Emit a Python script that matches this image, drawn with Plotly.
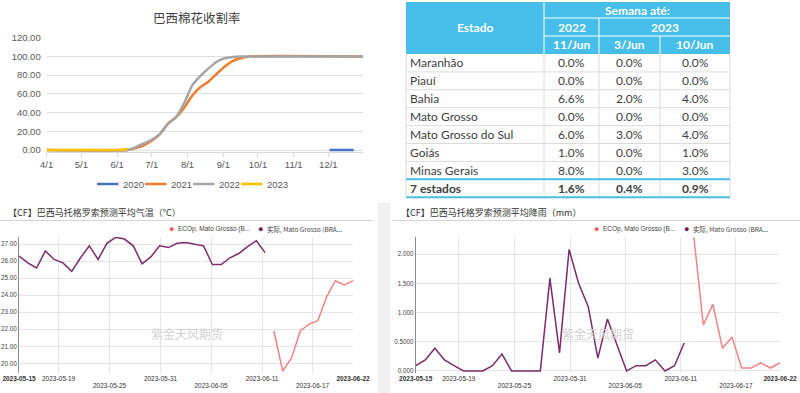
import plotly.graph_objects as go

W, H = 800, 393
def px(x): return x / W
def py(y): return 1 - y / H

# ---------------- top-left chart data (dummy year 2000 for the season) ----------------
dates_2020 = ["2000-12-02", "2000-12-23"]
vals_2020 = [0, 0]
dates_2021 = ["2000-04-01", "2000-06-10", "2000-06-17", "2000-06-24", "2000-07-01", "2000-07-08",
              "2000-07-15", "2000-07-22", "2000-07-29", "2000-08-05", "2000-08-12", "2000-08-19",
              "2000-08-26", "2000-09-02", "2000-09-09", "2000-09-16", "2000-09-23", "2000-12-31"]
vals_2021 = [0, 0, 2, 5, 10, 17, 28, 35, 45, 58, 67, 73, 81, 89, 95, 98, 100, 100]
dates_2022 = ["2000-04-01", "2000-06-10", "2000-06-17", "2000-06-24", "2000-07-01", "2000-07-08",
              "2000-07-15", "2000-07-22", "2000-07-29", "2000-08-05", "2000-08-12", "2000-08-19",
              "2000-08-26", "2000-09-02", "2000-09-09", "2000-09-16", "2000-12-31"]
vals_2022 = [0, 0, 3, 7, 11, 17, 28, 35, 50, 69, 79, 87, 94, 98, 99.5, 100, 100]
dates_2023 = ["2000-04-01", "2000-05-27", "2000-06-03", "2000-06-10"]
vals_2023 = [0, 0, 0.4, 0.9]
series_names = ["2020", "2021", "2022", "2023"]
series_colors = ["#4472C4", "#ED7D31", "#A5A5A5", "#FFC000"]
month_ticks = ["2000-04-01", "2000-05-01", "2000-06-01", "2000-07-01", "2000-08-01",
               "2000-09-01", "2000-10-01", "2000-11-01", "2000-12-01"]
month_labels = ["4/1", "5/1", "6/1", "7/1", "8/1", "9/1", "10/1", "11/1", "12/1"]
pct_ticks = [0, 20, 40, 60, 80, 100, 120]

# ---------------- table data ----------------
table_top_header = "Semana até:"
table_years = ["2022", "2023"]
table_weeks = ["11/Jun", "3/Jun", "10/Jun"]
states = ["Maranhão", "Piauí", "Bahia", "Mato Grosso", "Mato Grosso do Sul", "Goiás", "Minas Gerais", "7 estados"]
col_2022_11jun = ["0.0%", "0.0%", "6.6%", "0.0%", "6.0%", "1.0%", "8.0%", "1.6%"]
col_2023_3jun = ["0.0%", "0.0%", "2.0%", "0.0%", "3.0%", "0.0%", "0.0%", "0.4%"]
col_2023_10jun = ["0.0%", "0.0%", "4.0%", "0.0%", "4.0%", "1.0%", "3.0%", "0.9%"]

# ---------------- bottom charts data ----------------
dates_actual = ["2023-05-15", "2023-05-16", "2023-05-17", "2023-05-18", "2023-05-19", "2023-05-20",
                "2023-05-21", "2023-05-22", "2023-05-23", "2023-05-24", "2023-05-25", "2023-05-26",
                "2023-05-27", "2023-05-28", "2023-05-29", "2023-05-30", "2023-05-31", "2023-06-01",
                "2023-06-02", "2023-06-03", "2023-06-04", "2023-06-05", "2023-06-06", "2023-06-07",
                "2023-06-08", "2023-06-09", "2023-06-10", "2023-06-11", "2023-06-12"]
dates_fcst = ["2023-06-13", "2023-06-14", "2023-06-15", "2023-06-16", "2023-06-17",
              "2023-06-18", "2023-06-19", "2023-06-20", "2023-06-21", "2023-06-22"]
temp_actual = [26.3, 25.9, 25.6, 26.6, 26.1, 25.9, 25.4, 26.2, 26.9, 26.1, 27.05, 27.4, 27.3, 26.9,
               25.85, 26.25, 26.9, 26.8, 27.05, 27.1, 27.0, 26.9, 25.8, 25.8, 26.2, 26.45, 26.85, 27.2, 26.5]
temp_fcst = [21.9, 19.55, 20.3, 21.9, 22.3, 22.5, 23.9, 24.85, 24.6, 24.85]
rain_actual = [0.09, 0.19, 0.39, 0.19, 0.09, 0, 0, 0, 0.09, 0.29, 0, 0, 0, 0, 1.59, 0.31, 2.08, 1.5,
               1.1, 0.22, 0.89, 0.45, 0, 0.09, 0.09, 0.19, 0, 0.09, 0.48]
rain_fcst = [2.32, 0.79, 1.14, 0.39, 0.58, 0.05, 0.05, 0.14, 0.05, 0.14]
name_fcst = "ECOp, Mato Grosso (B..."
name_actual = "实际, Mato Grosso (BRA..."
# the source axis spaces its ticks evenly (~5.8 days) and labels them with the day
row1_ticks = ["2023-05-15", "2023-05-19 12:00", "2023-05-31 02:24", "2023-06-11 15:36", "2023-06-22"]
row1_labels = ["<b>2023-05-15</b>", "2023-05-19", "2023-05-31", "2023-06-11", "<b>2023-06-22</b>"]
row2_ticks = ["2023-05-25 07:12", "2023-06-05 20:24", "2023-06-17 09:36"]
row2_labels = ["2023-05-25", "2023-06-05", "2023-06-17"]
grid_ticks = row1_ticks[1:4] + row2_ticks
temp_ticks = [20, 21, 22, 23, 24, 25, 26, 27]
rain_ticks = [0, 0.5, 1.0, 1.5, 2.0]
rain_labels = ["0.000", "0.5000", "1.000", "1.500", "2.000"]

BLUE = "#47BEEA"
PURPLE = "#7D2A6E"
RED = "#F28484"
FT = "Liberation Sans"
CJK = "Noto Sans CJK SC"
TF = "Lato"

fig = go.Figure()

# ---- top-left lines
for name, xs, ys, col in zip(series_names, [dates_2020, dates_2021, dates_2022, dates_2023],
                             [vals_2020, vals_2021, vals_2022, vals_2023], series_colors):
    fig.add_trace(go.Scatter(x=xs, y=ys, name=name, mode="lines", showlegend=False,
                             line=dict(color=col, width=2.5, shape="spline", smoothing=0.5),
                             xaxis="x", yaxis="y", hoverinfo="skip"))

# ---- bottom-left temperature (forecast on overlay axis carrying the 2nd label row)
fig.add_trace(go.Scatter(x=dates_actual, y=temp_actual, mode="lines", name=name_actual,
                         line=dict(color=PURPLE, width=1.5), xaxis="x2", yaxis="y2",
                         showlegend=False, hoverinfo="skip"))
fig.add_trace(go.Scatter(x=dates_fcst, y=temp_fcst, mode="lines", name=name_fcst,
                         line=dict(color=RED, width=1.5), xaxis="x4", yaxis="y2",
                         showlegend=False, hoverinfo="skip"))
# ---- bottom-right rain
fig.add_trace(go.Scatter(x=dates_actual, y=rain_actual, mode="lines", name=name_actual,
                         line=dict(color=PURPLE, width=1.5), xaxis="x3", yaxis="y3",
                         showlegend=False, hoverinfo="skip"))
fig.add_trace(go.Scatter(x=dates_fcst, y=rain_fcst, mode="lines", name=name_fcst,
                         line=dict(color=RED, width=1.5), xaxis="x5", yaxis="y3",
                         showlegend=False, hoverinfo="skip"))

date_range = ["2023-05-15", "2023-06-22"]
small_tick = dict(size=6.5, color="#333333", family=FT)

def xrow1(domain, anchor):
    return dict(domain=domain, anchor=anchor, type="date", range=date_range, automargin=False,
                tickmode="array", tickvals=row1_ticks, ticktext=row1_labels, tickangle=0,
                showgrid=False, zeroline=False, showline=False, ticks="", tickfont=small_tick,
                ticklabelstandoff=1,
                minor=dict(tickmode="array", tickvals=grid_ticks, showgrid=True,
                           gridcolor="#e6e6e6", gridwidth=1, ticks=""))

def xrow2(over, domain, anchor):
    return dict(overlaying=over, domain=domain, anchor=anchor, type="date", range=date_range,
                automargin=False, tickmode="array", tickvals=row2_ticks, ticktext=row2_labels,
                tickangle=0, showgrid=False, zeroline=False, showline=False, ticks="",
                tickfont=small_tick, ticklabelstandoff=8)

fig.update_layout(
    width=W, height=H, margin=dict(l=0, r=0, t=0, b=0, autoexpand=False),
    paper_bgcolor="white", plot_bgcolor="rgba(0,0,0,0)",
    font=dict(family=FT), showlegend=False, hovermode=False,
    xaxis=dict(domain=[px(46.7), px(363)], anchor="y", type="date", automargin=False,
               range=["2000-04-01", "2000-12-31"], tickmode="array", tickvals=month_ticks,
               ticktext=month_labels, showgrid=False, zeroline=False, showline=True,
               linecolor="#d9d9d9", ticks="outside", ticklen=4, tickcolor="#d9d9d9",
               tickfont=dict(size=9.5, color="#595959", family=FT)),
    yaxis=dict(domain=[py(151.9), py(37.7)], anchor="x", range=[-2, 120], tickmode="array",
               automargin=False, tickvals=pct_ticks, ticktext=["%.2f" % v for v in pct_ticks],
               showgrid=True, gridcolor="#dedede", zeroline=False, showline=False,
               tickfont=dict(size=9.5, color="#595959", family=FT), ticklabelstandoff=5),
    xaxis2=xrow1([px(19), px(353)], "y2"),
    xaxis4=xrow2("x2", [px(19), px(353)], "y2"),
    yaxis2=dict(domain=[py(372.7), py(237)], anchor="x2", range=[19.45, 27.42], tickmode="array",
                automargin=False, tickvals=temp_ticks, ticktext=["%.2f" % v for v in temp_ticks],
                showgrid=True, gridcolor="#e6e6e6", zeroline=False, showline=True,
                linecolor="#8c8c8c", linewidth=1, ticks="",
                tickfont=dict(size=6.3, color="#444", family=FT), ticklabelstandoff=0),
    xaxis3=xrow1([px(415.7), px(780)], "y3"),
    xaxis5=xrow2("x3", [px(415.7), px(780)], "y3"),
    yaxis3=dict(domain=[py(372.7), py(237.3)], anchor="x3", range=[-0.03, 2.29], tickmode="array",
                automargin=False, tickvals=rain_ticks, ticktext=rain_labels,
                showgrid=True, gridcolor="#e6e6e6", zeroline=False, showline=True,
                linecolor="#8c8c8c", linewidth=1, ticks="",
                tickfont=dict(size=6.3, color="#444", family=FT), ticklabelstandoff=0),
)

def P(x, y):
    return dict(xref="paper", yref="paper", x=px(x), y=py(y))

shapes = [
    dict(type="rect", xref="paper", yref="paper", x0=px(378), x1=px(390), y0=0, y1=py(203),
         fillcolor="#f2f2f2", line=dict(width=0), layer="below"),
    dict(type="line", xref="paper", yref="paper", x0=0, x1=px(373), y0=py(220.5), y1=py(220.5),
         line=dict(color="#d4d4d4", width=1)),
    dict(type="line", xref="paper", yref="paper", x0=px(393), x1=1, y0=py(220.5), y1=py(220.5),
         line=dict(color="#d4d4d4", width=1)),
]
ann = []

# ---- top-left legend (compact, like the source)
leg_x = [97, 145, 193, 241]
for lx, name, col in zip(leg_x, series_names, series_colors):
    shapes.append(dict(type="line", xref="paper", yref="paper", x0=px(lx), x1=px(lx + 21.5),
                       y0=py(184), y1=py(184), line=dict(color=col, width=2.5)))
    ann.append(dict(text=name, **P(lx + 24, 184), showarrow=False, xanchor="left", yanchor="middle",
                    font=dict(size=9.5, color="#595959", family=FT)))

# ---- table built from its data arrays
col_x = [406, 544, 599, 660, 730]
hdr_rows = [2, 18, 36, 54]
row_h = 17.9
n_rows = len(states)
body_edges = [hdr_rows[-1] + k * row_h for k in range(n_rows + 1)]
shapes.append(dict(type="rect", xref="paper", yref="paper", x0=px(col_x[0]), x1=px(col_x[-1]),
                   y0=py(hdr_rows[-1]), y1=py(hdr_rows[0]), fillcolor=BLUE, line=dict(width=0)))
white = dict(color="white", width=1)
for (x0, x1, y0, y1) in [(col_x[1], col_x[1], hdr_rows[0], hdr_rows[3]),
                         (col_x[1], col_x[4], hdr_rows[1], hdr_rows[1]),
                         (col_x[1], col_x[4], hdr_rows[2], hdr_rows[2]),
                         (col_x[2], col_x[2], hdr_rows[1], hdr_rows[3]),
                         (col_x[3], col_x[3], hdr_rows[2], hdr_rows[3])]:
    shapes.append(dict(type="line", xref="paper", yref="paper", x0=px(x0), x1=px(x1),
                       y0=py(y0), y1=py(y1), line=white))
for k in range(1, n_rows):
    shapes.append(dict(type="line", xref="paper", yref="paper", x0=px(col_x[0]), x1=px(col_x[-1]),
                       y0=py(body_edges[k]), y1=py(body_edges[k]),
                       line=dict(color="#dcdcdc", width=1)))
for cx in col_x:
    shapes.append(dict(type="line", xref="paper", yref="paper", x0=px(cx), x1=px(cx),
                       y0=py(body_edges[0]), y1=py(body_edges[-1]), line=dict(color="#dcdcdc", width=1)))
for k in [n_rows - 1, n_rows]:
    shapes.append(dict(type="line", xref="paper", yref="paper", x0=px(col_x[0]), x1=px(col_x[-1]),
                       y0=py(body_edges[k]), y1=py(body_edges[k]), line=dict(color=BLUE, width=2)))

hfont = dict(size=12, color="white", family=TF)
def mid(a, b): return (a + b) / 2
def cell(text, x, y, font, xanchor="center"):
    return dict(text=text, **P(x, y), showarrow=False, xanchor=xanchor, yanchor="middle", font=font)

ann.append(cell("<b>Estado</b>", mid(col_x[0], col_x[1]), mid(hdr_rows[0], hdr_rows[3]), hfont))
ann.append(cell("<b>%s</b>" % table_top_header, mid(col_x[1], col_x[4]), mid(hdr_rows[0], hdr_rows[1]), hfont))
ann.append(cell("<b>%s</b>" % table_years[0], mid(col_x[1], col_x[2]), mid(hdr_rows[1], hdr_rows[2]), hfont))
ann.append(cell("<b>%s</b>" % table_years[1], mid(col_x[2], col_x[4]), mid(hdr_rows[1], hdr_rows[2]), hfont))
for j, wk in enumerate(table_weeks):
    ann.append(cell("<b>%s</b>" % wk, mid(col_x[j + 1], col_x[j + 2]), mid(hdr_rows[2], hdr_rows[3]), hfont))
bfont = dict(size=12, color="#404040", family=TF)
for i, st in enumerate(states):
    yc = mid(body_edges[i], body_edges[i + 1])
    bold = i == n_rows - 1
    fmt = (lambda s: "<b>%s</b>" % s) if bold else (lambda s: s)
    ann.append(cell(fmt(st), col_x[0] + 2, yc, bfont, xanchor="left"))
    for j, col in enumerate([col_2022_11jun, col_2023_3jun, col_2023_10jun]):
        ann.append(cell(fmt(col[i]), mid(col_x[j + 1], col_x[j + 2]), yc, bfont))

# ---- titles, watermarks, bottom legends
ann += [
    cell("巴西棉花收割率", 197, 17, dict(size=12.5, color="#404040", family=CJK)),
    cell("【CF】巴西马托格罗索预测平均气温（°C）", 6, 212, dict(size=9, color="#333333", family=CJK), "left"),
    cell("【CF】巴西马托格罗索预测平均降雨（mm）", 399, 212, dict(size=9, color="#333333", family=CJK), "left"),
    cell("紫金天风期货", 187, 333, dict(size=12, color="#d2d2d2", family=CJK)),
    cell("紫金天风期货", 598, 333, dict(size=12, color="#d2d2d2", family=CJK)),
]
for (cx1, cx2) in [(171, 260), (596.7, 686)]:
    ann += [
        cell("●", cx1, 229, dict(size=9, color="#F25C5C", family=FT)),
        cell(name_fcst, cx1 + 4.5, 229, dict(size=6.5, color="#444444", family=FT), "left"),
        cell("●", cx2, 229, dict(size=9, color="#6E1A5C", family=FT)),
        cell(name_actual, cx2 + 4.5, 229, dict(size=6.5, color="#444444", family=CJK), "left"),
    ]

fig.update_layout(shapes=shapes, annotations=ann)
fig.write_html("out.html", config={"displayModeBar": False, "staticPlot": True},
               post_script="document.body.style.margin='0px';")
